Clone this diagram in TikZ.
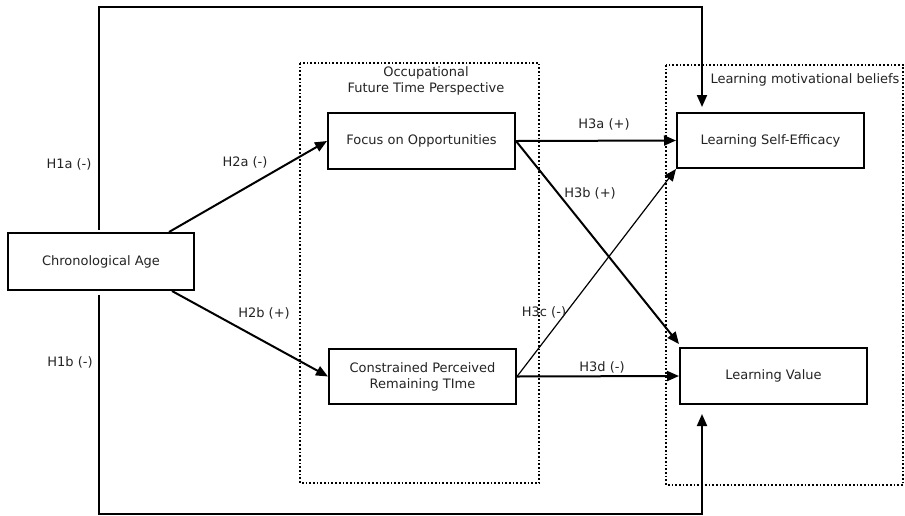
\documentclass[tikz,border=0pt]{standalone}
\usepackage{fontspec}
\setmainfont{DejaVu Sans}
\usetikzlibrary{arrows.meta,calc}
\definecolor{txt}{RGB}{35,35,35}
\begin{document}
\begin{tikzpicture}[x=1pt,y=-1pt,
  every node/.style={font=\fontsize{13}{16}\selectfont, text=txt},
  var/.style={draw=black, line width=2pt, minimum width=187pt, minimum height=56pt, inner sep=0pt},
  grp/.style={draw=black, line width=1.7pt, dotted},
  conn/.style={line width=2pt, -{Triangle[length=12pt,width=10pt]}},
  thin conn/.style={line width=1.2pt, -{Triangle[length=12pt,width=10pt]}},
  lbl/.style={inner sep=0pt}]
\useasboundingbox (0,0) rectangle (905,515);
% groups
\draw[grp] (300,63) rectangle (539,483);
\draw[grp] (666,65) rectangle (903,485);
\node[lbl, align=center] (oftp) at (426,80.5) {Occupational\\Future Time Perspective};
\node[lbl] (lmb) at (805,80) {Learning motivational beliefs};
% variables
\node[var, minimum width=186pt, minimum height=57pt] (age) at (101,261.5) {Chronological Age};
\node[var] (fo) at (421.5,141) {Focus on Opportunities};
\node[var, minimum height=55pt, align=center] (cp) at (422.5,376.5) {Constrained Perceived\\Remaining TIme};
\node[var, minimum height=55pt] (lse) at (770.5,140.5) {Learning Self-Efficacy};
\node[var] (lv) at (773.5,376) {Learning Value};
% direct paths
\coordinate (h1aS) at (99,230);
\coordinate (h1aE) at ($(lse.north west)+(26,-5)$);
\draw[conn] (h1aS) -- (99,7) -- (h1aE |- 0,7) -- (h1aE);
\coordinate (h1bS) at (99,295);
\coordinate (h1bE) at ($(lv.south west)+(23,9)$);
\draw[conn] (h1bS) -- (99,514) -- (h1bE |- 0,514) -- (h1bE);
% age to FTP
\draw[conn] ($(age.north east)+(-26,0)$) -- (fo.west);
\draw[conn] ($(age.south east)+(-23,0)$) -- (cp.west);
% FTP to beliefs
\draw[conn] (fo.east) -- (lse.west);
\draw[conn] (fo.east) -- ($(lv.north west)+(0,-3)$);
\draw[thin conn] (cp.east) -- (lse.south west);
\draw[conn] (cp.east) -- (lv.west);
% labels
\node[lbl] (l1a) at (69,164) {H1a (-)};
\node[lbl] (l1b) at (70,362) {H1b (-)};
\node[lbl] (l2a) at (245,162) {H2a (-)};
\node[lbl] (l2b) at (264,313) {H2b (+)};
\node[lbl] (l3a) at (604,124) {H3a (+)};
\node[lbl] (l3b) at (590,193) {H3b (+)};
\node[lbl] (l3c) at (544,312) {H3c (-)};
\node[lbl] (l3d) at (602,367) {H3d (-)};
\end{tikzpicture}
\end{document}
